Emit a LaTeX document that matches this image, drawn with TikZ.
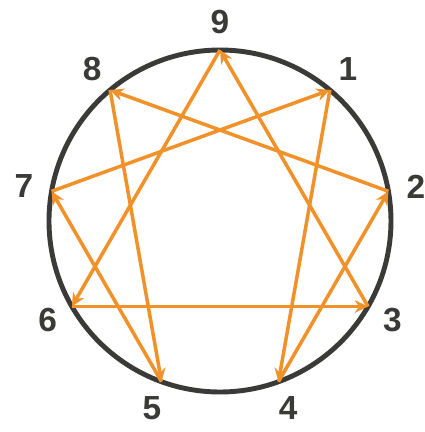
\documentclass[tikz,border=0pt]{standalone}
\usepackage{fontspec}
\setmainfont{Liberation Sans}
\usetikzlibrary{arrows.meta}
\definecolor{ring}{HTML}{3A3A38}
\definecolor{arr}{HTML}{F0912A}

\begin{document}
\begin{tikzpicture}[
  >={Stealth[length=3.8pt,width=3.6pt]},
  lbl/.style={inner sep=0pt,text=ring,font=\fontsize{9.5}{11}\selectfont\bfseries}
]
\useasboundingbox (-2.20,-2.11) rectangle (2.05,2.21);
\def\r{1.71}
\def\rl{1.99}

\draw[ring,line width=1.4pt] (0,0) circle (\r);

% points 1..9 on the circle, 9 on top
\foreach \i in {1,...,9} {
  \coordinate (p\i) at ({90-40*\i}:\r);
  \node[lbl] (l\i) at ({90-40*\i}:\rl) {\i};
}

% triangle 9-6-3 and hexad 1-4-2-8-5-7
\foreach \a/\b in {9/6,6/3,3/9,1/4,4/2,2/8,8/5,5/7,7/1}
  \draw[->,arr,line width=1pt] (p\a) -- (p\b);

\end{tikzpicture}
\end{document}
